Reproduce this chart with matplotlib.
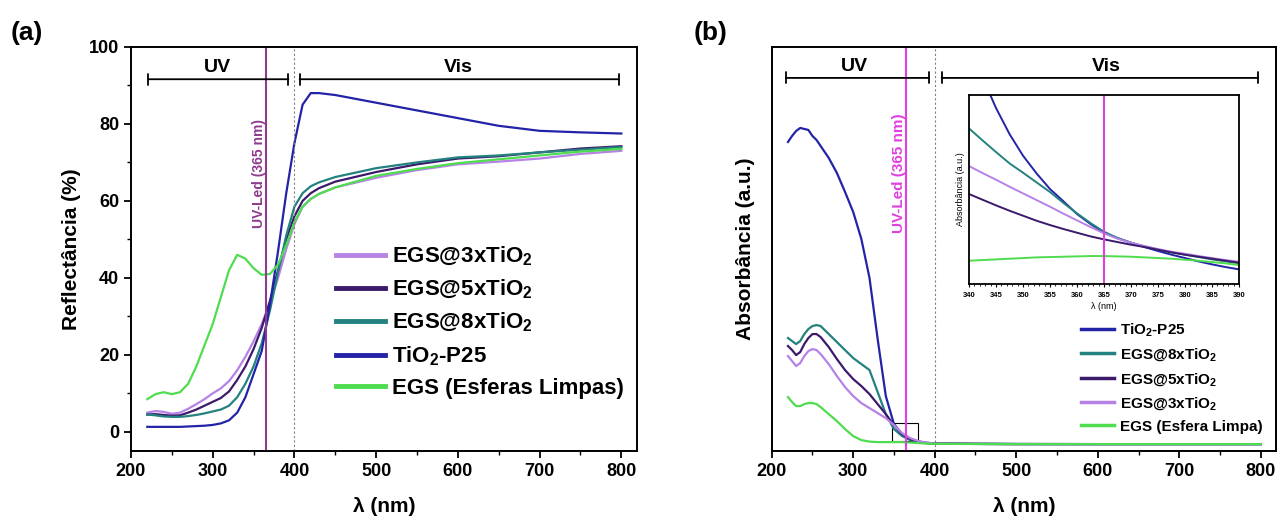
import numpy as np
import matplotlib.pyplot as plt
from matplotlib.patches import Rectangle

plt.rcParams['font.family'] = ['Liberation Sans', 'DejaVu Sans']
plt.rcParams['font.weight'] = 'bold'
plt.rcParams['axes.labelweight'] = 'bold'
plt.rcParams['mathtext.fontset'] = 'custom'
plt.rcParams['mathtext.rm'] = 'Liberation Sans:bold'
plt.rcParams['mathtext.bf'] = 'Liberation Sans:bold'
plt.rcParams['mathtext.default'] = 'bf'

# cores
c_p25 = '#2323a8'
c_8x = '#23827f'
c_5x = '#3c1a6b'
c_3x = '#b682e6'
c_egs = '#4fdc4f'

# ---------- (a) reflectância ----------
x_a = [220, 230, 240, 250, 260, 270, 280, 290, 300, 310, 320, 330, 340, 350, 360, 370, 380, 390,
       400, 410, 420, 430, 450, 500, 550, 600, 650, 700, 750, 800]
r_p25 = [1.3, 1.3, 1.3, 1.3, 1.3, 1.4, 1.5, 1.6, 1.8, 2.2, 3.0, 5.0, 9.0, 15, 21, 33, 47, 62,
         75, 85, 88, 88, 87.5, 85.5, 83.5, 81.5, 79.5, 78.2, 77.8, 77.5]
r_egs = [8.5, 9.8, 10.3, 9.8, 10.3, 12.5, 17, 22.5, 28, 35, 42, 46, 45, 42.5, 40.8, 41, 43.5, 48.5,
         54.5, 58.5, 60.5, 61.8, 63.5, 66.5, 68.3, 69.8, 70.8, 71.8, 72.8, 73.5]
r_3x = [5.0, 5.4, 5.2, 4.7, 5.0, 6.0, 7.2, 8.5, 10, 11.3, 13.2, 16, 19.5, 23.5, 28, 33.5, 40, 47.5,
        54, 58.5, 60.5, 61.8, 63.5, 66, 68, 69.5, 70.2, 71, 72.2, 73]
r_5x = [4.5, 4.6, 4.4, 4.2, 4.3, 5.0, 5.8, 6.8, 7.8, 8.8, 10.5, 13.5, 17, 21.5, 27, 34, 42, 50,
        56, 60, 62, 63.3, 65, 67.5, 69.5, 71, 71.6, 72.6, 73.6, 74.2]
r_8x = [4.5, 4.3, 4.0, 3.9, 3.9, 4.1, 4.4, 4.8, 5.3, 5.8, 6.8, 9, 12.5, 17, 23, 31.5, 41.5, 51,
        58.5, 62, 63.8, 64.8, 66.2, 68.5, 70, 71.3, 71.8, 72.6, 73.3, 74]

# ---------- (b) absorbância ----------
x_b = [220, 225, 230, 235, 240, 245, 250, 255, 260, 270, 280, 290, 300, 310, 320, 330, 340, 350,
       360, 370, 380, 390, 400, 450, 500, 600, 700, 800]
a_p25 = [302, 308, 313, 316, 315, 314, 308, 304, 298, 286, 271, 252, 232, 205, 166, 105, 48, 20,
         10, 5, 2.5, 1.3, 0.8, 0.3, 0.2, 0, 0, 0]
a_8x = [106, 103, 100, 103, 110, 115, 118, 119, 118, 110, 102, 94, 86, 80, 74, 52, 30, 15,
        8, 4, 2, 1, 0.5, 0.2, 0, 0, 0, 0]
a_5x = [98, 94, 89, 92, 100, 106, 110, 110, 107, 97, 85, 74, 65, 58, 50, 40, 30, 19,
        10, 5, 2.5, 1, 0.5, 0.2, 0, 0, 0, 0]
a_3x = [88, 83, 78, 81, 88, 93, 95, 94, 90, 80, 68, 57, 48, 41, 36, 31, 26, 19,
        11, 6, 3, 1.5, 0.5, 0.2, 0, 0, 0, 0]
a_egs = [47, 42, 38, 38, 40, 41, 41, 40, 37, 30, 23, 15, 8, 4, 2.5, 2, 2, 2,
         2, 1.5, 1, 0.5, 0.3, 0.1, 0, 0, 0, 0]

# ---------- inset ----------
x_in = [340, 342.5, 345, 347.5, 350, 352.5, 355, 357.5, 360, 362.5, 365, 367.5, 370, 372.5, 375,
        377.5, 380, 382.5, 385, 387.5, 390]
i_p25 = [720, 620, 528, 450, 385, 332, 285, 248, 210, 180, 154, 138, 124, 111, 99, 88, 78, 68, 59, 51, 44]
i_8x = [467, 431, 396, 362, 334, 305, 276, 243, 212, 183, 157, 138, 124, 113, 103, 95, 88, 81, 74, 68, 62]
i_3x = [354, 333, 313, 292, 272, 252, 232, 211, 191, 171, 152, 136, 124, 114, 105, 97, 91, 84, 78, 72, 67]
i_5x = [270, 253, 236, 220, 205, 190, 177, 165, 154, 143, 134, 126, 118, 111, 103, 95, 88, 82, 76, 70, 64]
i_egs = [70, 72, 74, 76, 78, 80, 81, 82, 83, 84, 84, 83, 82, 80, 78, 76, 73, 70, 66, 62, 57]

fig = plt.figure(figsize=(12.84, 5.27), dpi=100)
ax1 = fig.add_axes([0.102, 0.144, 0.394, 0.767])
ax2 = fig.add_axes([0.601, 0.144, 0.393, 0.767])
axin = fig.add_axes([0.7547, 0.461, 0.2103, 0.3586])

lw = 1.6
ax1.plot(x_a, r_3x, color=c_3x, lw=lw, label='EGS@3xTiO$_2$')
ax1.plot(x_a, r_5x, color=c_5x, lw=lw, label='EGS@5xTiO$_2$')
ax1.plot(x_a, r_8x, color=c_8x, lw=lw, label='EGS@8xTiO$_2$')
ax1.plot(x_a, r_p25, color=c_p25, lw=lw, label='TiO$_2$-P25')
ax1.plot(x_a, r_egs, color=c_egs, lw=lw, label='EGS (Esferas Limpas)')
ax1.set_xlim(200, 819)
ax1.set_ylim(-5, 100)
ax1.axvline(365, color='#8e3a8e', lw=1.5)
ax1.axvline(400, color='gray', lw=0.8, ls=(0, (2, 2)))
ax1.text(357, 67, 'UV-Led (365 nm)', rotation=90, color='#8e3a8e', fontsize=10,
         ha='center', va='center')
ax1.annotate('', xy=(218, 91.6), xytext=(396, 91.6),
             arrowprops=dict(arrowstyle='|-|', color='black', lw=1.3, mutation_scale=4))
ax1.annotate('', xy=(403, 91.6), xytext=(800, 91.6),
             arrowprops=dict(arrowstyle='|-|', color='black', lw=1.3, mutation_scale=4))
ax1.text(306, 94.6, 'UV', fontsize=14, ha='center', va='center')
ax1.text(600, 94.6, 'Vis', fontsize=14, ha='center', va='center')
ax1.set_xticks([200, 300, 400, 500, 600, 700, 800])
ax1.set_xticks(np.arange(250, 820, 100), minor=True)
ax1.set_yticks([0, 20, 40, 60, 80, 100])
ax1.set_yticks(np.arange(10, 100, 20), minor=True)
ax1.set_xlabel('λ (nm)', fontsize=15, labelpad=12)
ax1.set_ylabel('Reflectância (%)', fontsize=15, labelpad=6)
leg1 = ax1.legend(loc='upper left', bbox_to_anchor=(0.365, 0.56), frameon=False, fontsize=16,
                  handlelength=2.2, handletextpad=0.35, labelspacing=0.45)
for h in leg1.get_lines():
    h.set_linewidth(3.5)
fig.text(0.008, 0.925, '(a)', fontsize=19, fontweight='bold')

ax2.plot(x_b, a_p25, color=c_p25, lw=lw, label='TiO$_2$-P25')
ax2.plot(x_b, a_8x, color=c_8x, lw=lw, label='EGS@8xTiO$_2$')
ax2.plot(x_b, a_5x, color=c_5x, lw=lw, label='EGS@5xTiO$_2$')
ax2.plot(x_b, a_3x, color=c_3x, lw=lw, label='EGS@3xTiO$_2$')
ax2.plot(x_b, a_egs, color=c_egs, lw=lw, label='EGS (Esfera Limpa)')
ax2.set_xlim(200, 819)
ax2.set_ylim(-7, 397)
ax2.axvline(365, color='#e040e0', lw=1.5)
ax2.axvline(400, color='gray', lw=0.8, ls=(0, (2, 2)))
ax2.text(356, 271, 'UV-Led (365 nm)', rotation=90, color='#e040e0', fontsize=11,
         ha='center', va='center')
ax2.add_patch(Rectangle((348, 3), 31, 18, fill=False, ec='black', lw=0.8))
ax2.annotate('', xy=(214, 366), xytext=(396, 366),
             arrowprops=dict(arrowstyle='|-|', color='black', lw=1.3, mutation_scale=4))
ax2.annotate('', xy=(405, 366), xytext=(800, 366),
             arrowprops=dict(arrowstyle='|-|', color='black', lw=1.3, mutation_scale=4))
ax2.text(302, 377, 'UV', fontsize=14, ha='center', va='center')
ax2.text(610, 377, 'Vis', fontsize=14, ha='center', va='center')
ax2.set_xticks([200, 300, 400, 500, 600, 700, 800])
ax2.set_xticks(np.arange(250, 820, 100), minor=True)
ax2.set_yticks([])
ax2.set_xlabel('λ (nm)', fontsize=15, labelpad=12)
ax2.set_ylabel('Absorbância (a.u.)', fontsize=15, labelpad=12)
leg2 = ax2.legend(loc='upper left', bbox_to_anchor=(0.585, 0.355), frameon=False, fontsize=11,
                  handlelength=2.2, handletextpad=0.35, labelspacing=0.5)
for h in leg2.get_lines():
    h.set_linewidth(2.5)
fig.text(0.54, 0.925, '(b)', fontsize=19, fontweight='bold')

axin.plot(x_in, i_p25, color=c_p25, lw=1.4)
axin.plot(x_in, i_8x, color=c_8x, lw=1.4)
axin.plot(x_in, i_3x, color=c_3x, lw=1.4)
axin.plot(x_in, i_5x, color=c_5x, lw=1.4)
axin.plot(x_in, i_egs, color=c_egs, lw=1.4)
axin.axvline(365, color='#e040e0', lw=1.5)
axin.set_xlim(340, 390)
axin.set_ylim(0, 567)
axin.set_xticks(np.arange(340, 391, 5))
axin.set_xticks(np.arange(341, 390, 1), minor=True)
axin.set_yticks([])
axin.tick_params(labelsize=5.5, length=2.5, width=0.8)
axin.tick_params(which='minor', length=1.5, width=0.6)
axin.set_xlabel('λ (nm)', fontsize=6.5, fontweight='normal', labelpad=2)
axin.set_ylabel('Absorbância (a.u.)', fontsize=6.5, fontweight='normal', labelpad=3)
for s in axin.spines.values():
    s.set_linewidth(1.3)

for ax in (ax1, ax2):
    ax.tick_params(labelsize=13, length=5, width=1.3, direction='out')
    ax.tick_params(which='minor', length=3, width=1.0)
    for s in ax.spines.values():
        s.set_linewidth(1.4)

fig.savefig('out.png', dpi=100)
